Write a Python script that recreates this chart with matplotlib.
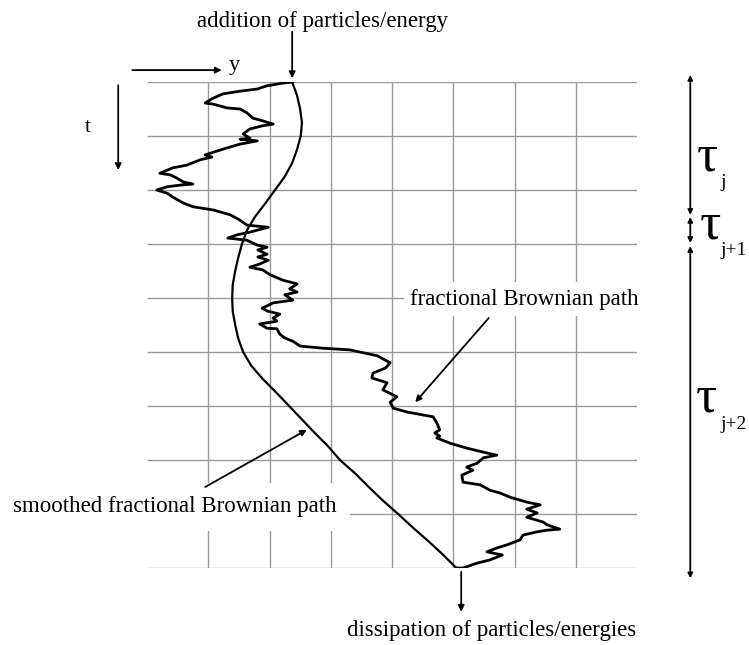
import matplotlib
matplotlib.use("Agg")
import matplotlib.pyplot as plt
import numpy as np

plt.rcParams['font.family'] = ['Liberation Serif', 'DejaVu Serif']

# grid: columns along y, rows along t (grid units)
n_cols = 8
n_rows = 9

# fractional Brownian path (y, t) in grid units
fbm_y = [2.38, 2.22, 1.96, 1.80, 1.52, 1.24, 1.06, 0.95, 1.08, 1.31, 1.52, 1.63, 1.73, 1.89, 2.06,
         1.89, 1.68, 1.57, 1.68, 1.52, 1.80, 1.52, 1.31, 1.14, 0.95, 1.06, 0.87, 0.65, 0.42, 0.21,
         0.38, 0.49, 0.59, 0.75, 0.54, 0.33, 0.16, 0.33, 0.42, 0.59, 0.75, 1.08, 1.36, 1.52, 1.63,
         1.98, 1.68, 1.47, 1.32, 1.63, 1.80, 1.96, 1.81, 1.96, 1.81, 1.98, 1.84, 1.68, 1.89, 2.01,
         2.22, 2.45, 2.33, 2.45, 2.25, 2.38, 2.06, 1.88, 1.96, 2.17, 2.06, 2.12, 1.84, 1.96, 2.12,
         2.17, 2.25, 2.38, 2.50, 2.87, 3.31, 3.76, 3.97, 3.89, 3.69, 3.67, 3.92, 3.85, 4.08, 3.97,
         4.02, 4.24, 4.67, 4.73, 4.78, 4.70, 4.78, 4.73, 4.95, 5.22, 5.55, 5.71, 5.49, 5.39, 5.22,
         5.32, 5.14, 5.16, 5.44, 5.60, 5.76, 5.93, 6.20, 6.42, 6.20, 6.37, 6.20, 6.47, 6.53, 6.74,
         6.53, 6.37, 6.14, 6.09, 5.88, 5.71, 5.55, 5.80, 5.60, 5.39, 5.16, 5.05]
fbm_t = [0.00, 0.02, 0.07, 0.13, 0.17, 0.22, 0.31, 0.39, 0.41, 0.48, 0.50, 0.57, 0.67, 0.72, 0.78,
         0.81, 0.87, 0.96, 1.04, 1.06, 1.09, 1.15, 1.22, 1.28, 1.35, 1.39, 1.44, 1.54, 1.59, 1.69,
         1.72, 1.78, 1.85, 1.89, 1.91, 1.94, 2.00, 2.06, 2.13, 2.24, 2.31, 2.37, 2.46, 2.56, 2.65,
         2.69, 2.78, 2.83, 2.89, 2.93, 3.02, 3.06, 3.11, 3.19, 3.24, 3.30, 3.37, 3.43, 3.48, 3.57,
         3.67, 3.74, 3.83, 3.89, 3.94, 4.04, 4.09, 4.19, 4.24, 4.30, 4.37, 4.43, 4.48, 4.56, 4.57,
         4.67, 4.74, 4.80, 4.89, 4.93, 4.96, 5.07, 5.20, 5.30, 5.39, 5.48, 5.57, 5.70, 5.83, 5.93,
         6.04, 6.11, 6.20, 6.31, 6.44, 6.50, 6.56, 6.59, 6.69, 6.78, 6.87, 6.91, 6.96, 7.06, 7.13,
         7.19, 7.28, 7.41, 7.46, 7.56, 7.61, 7.69, 7.78, 7.83, 7.91, 7.98, 8.06, 8.15, 8.20, 8.28,
         8.30, 8.33, 8.39, 8.48, 8.57, 8.63, 8.70, 8.76, 8.85, 8.91, 9.00, 9.00]

# smoothed fractional Brownian path
smooth_t = np.linspace(0, 9, 37)
smooth_y = [2.37, 2.45, 2.50, 2.53, 2.51, 2.45, 2.37, 2.25, 2.09, 1.93, 1.76, 1.63, 1.55,
            1.49, 1.44, 1.40, 1.39, 1.40, 1.44, 1.49, 1.57, 1.70, 1.89, 2.11, 2.32, 2.53,
            2.74, 2.96, 3.15, 3.40, 3.62, 3.85, 4.10, 4.34, 4.59, 4.83, 5.05]

# time intervals on the right
tau_spans = [(-0.13, 2.46), (2.50, 2.98), (3.04, 9.19)]
tau_subs = ['j', 'j+1', 'j+2']
tau_base = [1.63, 2.89, 6.11]      # baseline of the tau glyph
tau_x = [8.98, 9.02, 8.96]

fig = plt.figure(figsize=(7.49, 6.45), dpi=100)
ax = fig.add_axes([147 / 749, 77 / 645, 490 / 749, 486 / 645])
ax.set_xlim(0, n_cols)
ax.set_ylim(n_rows, 0)
ax.axis('off')

# grid
ax.hlines(np.arange(n_rows + 1), 0, n_cols, color='0.6', lw=1.0, zorder=1)
ax.vlines(np.arange(1, n_cols), 0, n_rows, color='0.6', lw=1.0, zorder=1)

ax.plot(fbm_y, fbm_t, color='black', lw=2.0, zorder=3)
ax.plot(smooth_y, smooth_t, color='black', lw=1.6, zorder=3)

arrow = dict(arrowstyle='-|>', color='black', lw=1.3, mutation_scale=9, shrinkA=0, shrinkB=0)
both = dict(arrowstyle='<|-|>', color='black', lw=1.3, mutation_scale=7, shrinkA=0, shrinkB=0)

# axes arrows y and t
ax.annotate('', xy=(1.22, -0.22), xytext=(-0.24, -0.22), arrowprops=arrow, annotation_clip=False)
ax.text(1.34, -0.22, 'y', fontsize=16, ha='left', va='baseline')
ax.annotate('', xy=(-0.47, 1.63), xytext=(-0.47, 0.06), arrowprops=arrow, annotation_clip=False)
ax.text(-0.96, 0.85, 't', fontsize=16, ha='center', va='center')

# top / bottom
ax.annotate('', xy=(2.37, -0.07), xytext=(2.37, -0.93), arrowprops=arrow, annotation_clip=False)
ax.text(0.82, -1.02, 'addition of particles/energy', fontsize=16.5, ha='left', va='baseline')
ax.annotate('', xy=(5.13, 9.81), xytext=(5.13, 9.07), arrowprops=arrow, annotation_clip=False)
ax.text(3.26, 10.26, 'dissipation of particles/energies', fontsize=16.5, ha='left', va='baseline')

# labels with white boxes over the grid
ax.text(4.30, 4.02, 'fractional Brownian path', fontsize=16.5, ha='left', va='center',
        bbox=dict(facecolor='white', edgecolor='none', pad=5), zorder=2)
ax.annotate('', xy=(4.38, 5.93), xytext=(5.58, 4.37), arrowprops=arrow, annotation_clip=False)
ax.text(-2.19, 7.87, 'smoothed fractional Brownian path', fontsize=16.5, ha='left',
        va='center', bbox=dict(facecolor='white', edgecolor='none', pad=10), zorder=2)
ax.annotate('', xy=(2.61, 6.44), xytext=(0.95, 7.50), arrowprops=arrow, annotation_clip=False)

# tau intervals
for (t0, t1), sub, tb, tx in zip(tau_spans, tau_subs, tau_base, tau_x):
    ax.annotate('', xy=(8.87, t1), xytext=(8.87, t0), arrowprops=both, annotation_clip=False)
    ax.text(tx, tb, '\u03c4', fontsize=38, ha='left', va='baseline')
    ax.text(9.37, tb + 0.32, sub, fontsize=14, ha='left', va='baseline')

fig.savefig('out.png', dpi=100)
